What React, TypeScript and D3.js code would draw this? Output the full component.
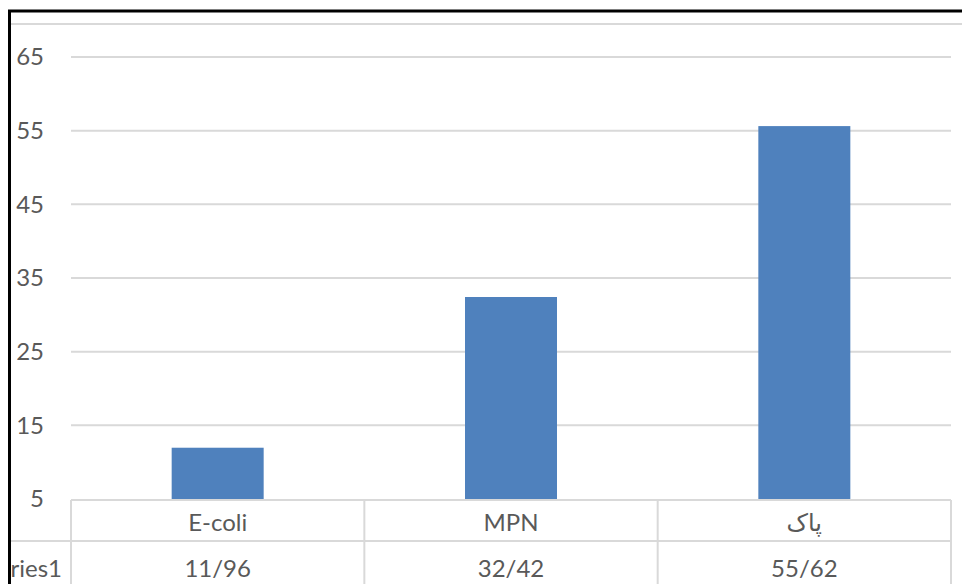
import React, { useEffect, useRef } from 'react';
import * as d3 from 'd3';

const categories = ['E-coli', 'MPN', 'پاک'];
const values = [11.96, 32.42, 55.62];
const valueLabels = ['11/96', '32/42', '55/62'];
const yTicks = [5, 15, 25, 35, 45, 55, 65];
const seriesName = 'Series1';

const W = 962;
const H = 584;

const App: React.FC = () => {
  const svgRef = useRef<SVGSVGElement>(null);

  useEffect(() => {
    if (!svgRef.current) return;
    const svg = d3.select(svgRef.current);
    svg.selectAll('*').remove();

    const font = "Lato, 'DejaVu Sans', sans-serif";
    const textColor = '#595959';
    const gridColor = '#d9d9d9';

    const plotLeft = 71;
    const plotRight = 951;
    const tableTop = 500;
    const rowSplit = 541;

    const x = d3.scaleBand<string>().domain(categories).range([plotLeft, plotRight]).paddingInner(0).paddingOuter(0);
    const y = d3.scaleLinear().domain([5, 65]).range([tableTop - 1, 57]);

    svg.append('defs').append('clipPath').attr('id', 'clip')
      .append('rect').attr('x', 11).attr('y', 12).attr('width', W).attr('height', H);

    const g = svg.append('g').attr('clip-path', 'url(#clip)');

    // chart area top line
    g.append('line')
      .attr('x1', 10).attr('x2', W).attr('y1', 24).attr('y2', 24)
      .attr('stroke', gridColor).attr('stroke-width', 2);

    // gridlines
    g.selectAll('.grid')
      .data(yTicks.slice(1))
      .join('line')
      .attr('x1', plotLeft).attr('x2', plotRight)
      .attr('y1', d => y(d)).attr('y2', d => y(d))
      .attr('stroke', gridColor).attr('stroke-width', 2);

    // y tick labels
    g.selectAll('.ytick')
      .data(yTicks)
      .join('text')
      .attr('x', 44)
      .attr('y', d => y(d))
      .attr('dy', '0.35em')
      .attr('text-anchor', 'end')
      .attr('fill', textColor)
      .style('font-family', font)
      .style('font-size', '24px')
      .text(d => d);

    // bars
    const barW = 92;
    g.selectAll('.bar')
      .data(values)
      .join('rect')
      .attr('x', (d, i) => x(categories[i])! + x.bandwidth() / 2 - barW / 2)
      .attr('y', d => y(d))
      .attr('width', barW)
      .attr('height', d => y(5) - y(d))
      .attr('fill', '#4f81bd');

    // data table
    g.append('line')
      .attr('x1', plotLeft).attr('x2', plotRight).attr('y1', tableTop).attr('y2', tableTop)
      .attr('stroke', gridColor).attr('stroke-width', 2);
    g.append('line')
      .attr('x1', 10).attr('x2', plotRight).attr('y1', rowSplit).attr('y2', rowSplit)
      .attr('stroke', gridColor).attr('stroke-width', 2);
    const bounds = categories.map(c => x(c)!).concat([plotRight]);
    g.selectAll('.vline')
      .data(bounds)
      .join('line')
      .attr('x1', d => d).attr('x2', d => d)
      .attr('y1', tableTop).attr('y2', H)
      .attr('stroke', gridColor).attr('stroke-width', 2);

    g.selectAll('.cat')
      .data(categories)
      .join('text')
      .attr('x', d => x(d)! + x.bandwidth() / 2)
      .attr('y', 531)
      .attr('text-anchor', 'middle')
      .attr('fill', textColor)
      .style('font-family', font)
      .style('font-size', '24px')
      .text(d => d);

    g.selectAll('.val')
      .data(valueLabels)
      .join('text')
      .attr('x', (d, i) => x(categories[i])! + x.bandwidth() / 2)
      .attr('y', 577)
      .attr('text-anchor', 'middle')
      .attr('fill', textColor)
      .style('font-family', font)
      .style('font-size', '24px')
      .text(d => d);

    g.append('text')
      .attr('x', 62)
      .attr('y', 577)
      .attr('text-anchor', 'end')
      .attr('fill', textColor)
      .style('font-family', font)
      .style('font-size', '24px')
      .text(seriesName);

    // outer black border (left and top)
    svg.append('path')
      .attr('d', `M9.5,${H} V11 H${W}`)
      .attr('fill', 'none')
      .attr('stroke', '#000')
      .attr('stroke-width', 3);
  }, []);

  return (
    <svg
      ref={svgRef}
      width={W}
      height={H}
      style={{ position: 'absolute', left: 0, top: 0, background: '#fff' }}
    />
  );
};

export default App;
